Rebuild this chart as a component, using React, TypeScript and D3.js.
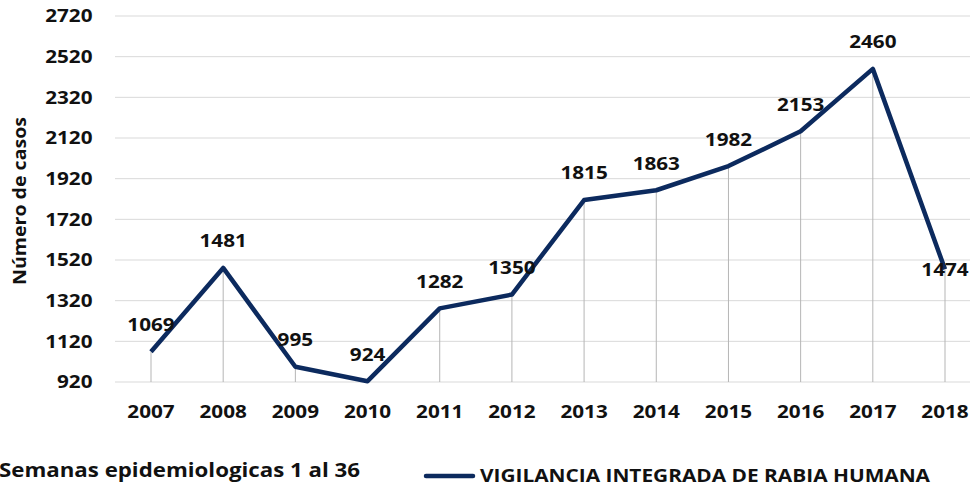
import React, { useEffect, useRef } from 'react';
import * as d3 from 'd3';

const years = ['2007', '2008', '2009', '2010', '2011', '2012', '2013', '2014', '2015', '2016', '2017', '2018'];
const cases = [1069, 1481, 995, 924, 1282, 1350, 1815, 1863, 1982, 2153, 2460, 1474];
const yTicks = [920, 1120, 1320, 1520, 1720, 1920, 2120, 2320, 2520, 2720];
const seriesName = 'VIGILANCIA INTEGRADA DE RABIA HUMANA';
const footnote = 'Semanas epidemiologicas 1 al 36';
const yTitle = 'Número de casos';

const App = () => {
  const svgRef = useRef<SVGSVGElement>(null);

  useEffect(() => {
    const width = 970;
    const height = 489;
    const font = '"Open Sans", sans-serif';
    const lineColor = '#0c2a5e';
    const sx = 1.15; // the source text looks stretched sideways

    const svg = d3.select(svgRef.current).attr('width', width).attr('height', height);
    svg.selectAll('*').remove();

    const x = d3.scalePoint().domain(years).range([151, 945]);
    const y = d3.scaleLinear().domain([920, 2720]).range([382, 16]);

    const label = (g, px, py, txt, anchor, size = 18) =>
      g.append('text')
        .attr('transform', `translate(${px},${py}) scale(${sx},1)`)
        .attr('dy', '0.36em')
        .attr('text-anchor', anchor)
        .attr('font-family', font)
        .attr('font-weight', 'bold')
        .attr('font-size', size)
        .attr('fill', '#111')
        .text(txt);

    // horizontal gridlines
    svg.append('g')
      .selectAll('line')
      .data(yTicks)
      .enter().append('line')
      .attr('x1', 115)
      .attr('x2', width)
      .attr('y1', d => y(d))
      .attr('y2', d => y(d))
      .attr('stroke', '#d9d9d9')
      .attr('stroke-width', 1);

    // y tick labels
    const yg = svg.append('g');
    yTicks.forEach(t => label(yg, 92.5, y(t), t, 'end'));

    // drop lines
    svg.append('g')
      .selectAll('line')
      .data(cases)
      .enter().append('line')
      .attr('x1', (d, i) => x(years[i]))
      .attr('x2', (d, i) => x(years[i]))
      .attr('y1', d => y(d))
      .attr('y2', y(920))
      .attr('stroke', '#b5b5b5')
      .attr('stroke-width', 1);

    // x labels
    const xg = svg.append('g');
    years.forEach(yr => label(xg, x(yr), 411.5, yr, 'middle'));

    const line = d3.line<number>()
      .x((d, i) => x(years[i]))
      .y(d => y(d));

    svg.append('path')
      .datum(cases)
      .attr('d', line)
      .attr('fill', 'none')
      .attr('stroke', lineColor)
      .attr('stroke-width', 4.5)
      .attr('stroke-linejoin', 'round');

    // data labels (last one sits on its point)
    const dg = svg.append('g');
    cases.forEach((v, i) => {
      const py = i === cases.length - 1 ? y(v) : y(v) - 27;
      label(dg, x(years[i]), py, v, 'middle');
    });

    // y axis title
    svg.append('text')
      .attr('transform', 'translate(20,201) rotate(-90)')
      .attr('text-anchor', 'middle')
      .attr('dy', '0.36em')
      .attr('font-family', font)
      .attr('font-weight', 'bold')
      .attr('font-size', 18)
      .attr('fill', '#111')
      .attr('textLength', 168)
      .attr('lengthAdjust', 'spacingAndGlyphs')
      .text(yTitle);

    // footnote
    svg.append('text')
      .attr('x', -1)
      .attr('y', 470)
      .attr('dy', '0.36em')
      .attr('font-family', font)
      .attr('font-weight', 'bold')
      .attr('font-size', 19)
      .attr('fill', '#111')
      .attr('textLength', 361)
      .attr('lengthAdjust', 'spacingAndGlyphs')
      .text(footnote);

    // legend
    svg.append('line')
      .attr('x1', 426)
      .attr('x2', 473)
      .attr('y1', 476)
      .attr('y2', 476)
      .attr('stroke', lineColor)
      .attr('stroke-width', 4.5)
      .attr('stroke-linecap', 'round');

    svg.append('text')
      .attr('x', 480)
      .attr('y', 476)
      .attr('dy', '0.36em')
      .attr('font-family', font)
      .attr('font-weight', 'bold')
      .attr('font-size', 17)
      .attr('fill', '#111')
      .attr('textLength', 450)
      .attr('lengthAdjust', 'spacingAndGlyphs')
      .text(seriesName);
  }, []);

  return (
    <svg ref={svgRef} style={{ position: 'absolute', left: 0, top: 0 }}></svg>
  );
};

export default App;
